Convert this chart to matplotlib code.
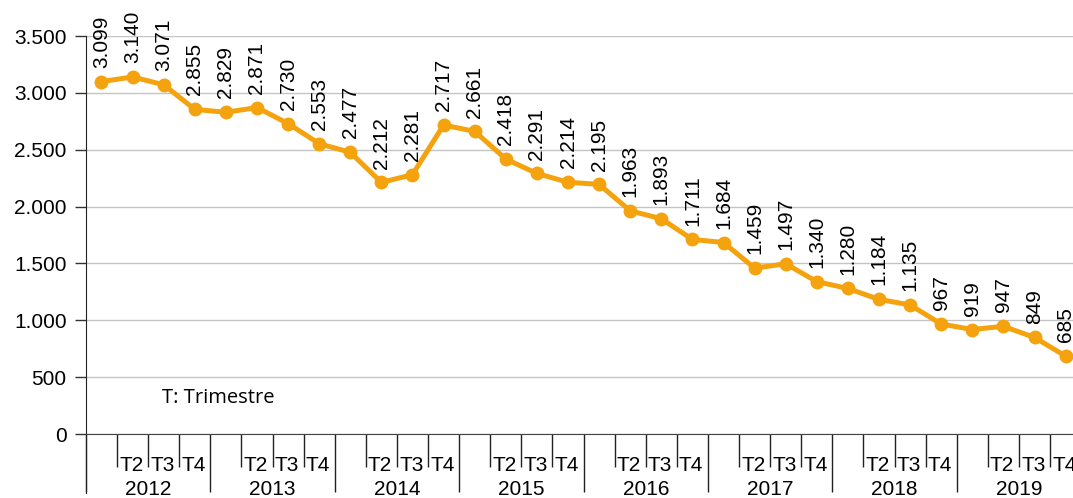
import matplotlib.pyplot as plt
import numpy as np

plt.rcParams['font.family'] = ['Liberation Sans', 'DejaVu Sans']

years = [2012, 2013, 2014, 2015, 2016, 2017, 2018, 2019]
quarters = ["", "T2", "T3", "T4"]
values = [3099, 3140, 3071, 2855, 2829, 2871, 2730, 2553,
          2477, 2212, 2281, 2717, 2661, 2418, 2291, 2214,
          2195, 1963, 1893, 1711, 1684, 1459, 1497, 1340,
          1280, 1184, 1135, 967, 919, 947, 849, 685]
yticks = [0, 500, 1000, 1500, 2000, 2500, 3000, 3500]

orange = "#F4A30F"

def fmt(v):
    return f"{v:,.0f}".replace(",", ".")

fig = plt.figure(figsize=(10.73, 4.98), dpi=100)
ax = fig.add_axes([0.0801, 0.1285, 0.9275, 0.7992])

x = np.arange(len(values))
ax.plot(x, values, color=orange, lw=3.6, marker="o", ms=9, clip_on=False, zorder=3)

for xi, v in zip(x, values):
    ax.annotate(fmt(v), (xi, v), xytext=(0, 10), textcoords="offset points",
                rotation=90, ha="center", va="bottom", fontsize=15, annotation_clip=False)

ax.set_xlim(-0.5, len(values) - 0.5)
ax.set_ylim(0, 3500)
ax.set_yticks(yticks)
ax.set_yticklabels([fmt(v) for v in yticks], fontsize=15)
ax.yaxis.grid(True, color="#c4c4c4", lw=1)
ax.set_axisbelow(True)
ax.tick_params(axis="y", length=8, width=1, color="#333333", pad=6)

for s in ["top", "right"]:
    ax.spines[s].set_visible(False)
ax.spines["left"].set_bounds(-0.148 * 3500, 3500)
ax.spines["left"].set_color("#222222")
ax.spines["bottom"].set_color("#444444")

# year boundaries as major ticks, quarter boundaries as minor ticks
ax.set_xticks(np.arange(0, len(values) + 1, 4) - 0.5)
ax.set_xticks(np.arange(0, len(values), 1) - 0.5, minor=True)
ax.set_xticklabels([])
ax.tick_params(axis="x", which="major", length=42, width=1, color="#222222", direction="out")
ax.tick_params(axis="x", which="minor", length=24, width=1, color="#222222", direction="out")

for i in range(len(values)):
    q = quarters[i % 4]
    if q:
        ax.annotate(q, (i - 0.5, 0), xycoords=("data", "axes fraction"),
                    xytext=(1.5, -23), textcoords="offset points",
                    ha="left", va="center", fontsize=15, annotation_clip=False)

for k, yr in enumerate(years):
    ax.annotate(str(yr), (k * 4 + 1.5, 0), xycoords=("data", "axes fraction"),
                xytext=(0, -40), textcoords="offset points",
                ha="center", va="center", fontsize=15, annotation_clip=False)

ax.text(1.95, 316, "T: Trimestre", fontsize=14.5, family=["Open Sans", "DejaVu Sans"],
        ha="left", va="center")

fig.savefig("out.png", dpi=100)
